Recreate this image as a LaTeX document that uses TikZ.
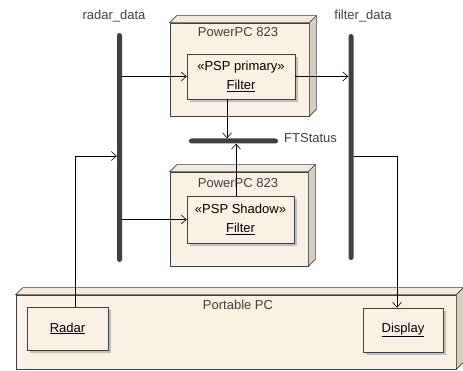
\documentclass[tikz,border=0pt]{standalone}
\usepackage{fontspec}
\setmainfont{Liberation Sans}
\usetikzlibrary{arrows.meta,shadows}
\definecolor{cream}{HTML}{FAF0E3}
\definecolor{creamside}{HTML}{D8CEC0}
\definecolor{creamtop}{HTML}{F4EADC}
\definecolor{ink}{HTML}{404040}
\tikzset{
  lbl/.style={font=\fontsize{13}{15}\selectfont, text=ink, inner sep=0pt},
  face/.style={draw=ink, line width=0.7pt, fill=cream, inner sep=0pt, minimum width=#1},
  comp/.style={draw=ink, line width=0.7pt, fill=cream, inner sep=0pt,
    font=\fontsize{13}{19}\selectfont, align=center,
    drop shadow={shadow xshift=3pt, shadow yshift=-3pt, fill=black!25, opacity=1}},
  vbar/.style={fill=ink, rounded corners=2.5pt, inner sep=0pt, minimum width=5pt},
  hbar/.style={fill=ink, rounded corners=2.5pt, inner sep=0pt, minimum height=5pt},
  arr/.style={draw=black, line width=0.6pt, -{Straight Barb[length=5pt,width=9pt]}},
  conn/.style={draw=black!75, line width=0.6pt},
}
\newcommand{\threed}[1]{%
  \filldraw[draw=ink, line width=0.7pt, fill=creamtop] (#1.north west) -- ++(7,-7) -- ([shift={(7,-7)}]#1.north east) -- (#1.north east) -- cycle;
  \filldraw[draw=ink, line width=0.7pt, fill=creamside] (#1.north east) -- ++(7,-7) -- ([shift={(7,-7)}]#1.south east) -- (#1.south east) -- cycle;
}
\begin{document}
\begin{tikzpicture}[x=1pt,y=-1pt]
\useasboundingbox (0,0) rectangle (463,371);
% 3D nodes
\node[face, minimum width=139pt, minimum height=93pt] (ppc1) at (239.5,69.5) {};
\threed{ppc1}
\node[face, minimum width=138pt, minimum height=94pt] (ppc2) at (239,219) {};
\threed{ppc2}
\node[face, minimum width=440pt, minimum height=74pt] (pc) at (236,332) {};
\threed{pc}
\node[lbl] (t1) at (238,32) {PowerPC 823};
\node[lbl] (t2) at (238,183) {PowerPC 823};
\node[lbl] (t3) at (238,305) {Portable PC};
% components
\node[comp, minimum width=108pt, minimum height=45pt] (f1) at (241,76.5) {«PSP primary»\\\underline{Filter}};
\node[comp, minimum width=107pt, minimum height=47pt] (f2) at (240.5,219.5) {«PSP Shadow»\\\underline{Filter}};
\node[comp, minimum width=81pt, minimum height=43pt] (radar) at (67.5,328.5) {\underline{Radar}};
\node[comp, minimum width=80pt, minimum height=44pt] (display) at (403,330) {\underline{Display}};
% bars
\node[vbar, minimum height=229pt] (rbar) at (119.5,147.5) {};
\node[vbar, minimum height=226pt] (fbar) at (351,147) {};
\node[hbar, minimum width=89pt] (ftbar) at (233.5,141) {};
\node[lbl] (rl) at (114,16) {radar\_data};
\node[lbl] (fl) at (363,16) {filter\_data};
\node[lbl, anchor=west] (ftl) at (284,138) {FTStatus};
% connectors
\draw[arr] (f1.west -| rbar.east) -- (f1.west);
\draw[arr] (f1.east) -- (f1.east -| fbar.west);
\draw[arr] ([xshift=-14pt]f1.south) -- ([xshift=-14pt]f1.south |- ftbar.north);
\draw[arr] ([xshift=-4.5pt]f2.north) -- ([xshift=-4.5pt]f2.north |- ftbar.south);
\draw[arr] (f2.west -| rbar.east) -- (f2.west);
\coordinate (rk) at (75,156);
\coordinate (dk) at (397,156);
\draw[arr] (radar.north -| rk) -- (rk) -- (rk -| rbar.west);
\draw[arr] (dk -| fbar.east) -- (dk) -- (dk |- display.north);
\end{tikzpicture}
\end{document}
